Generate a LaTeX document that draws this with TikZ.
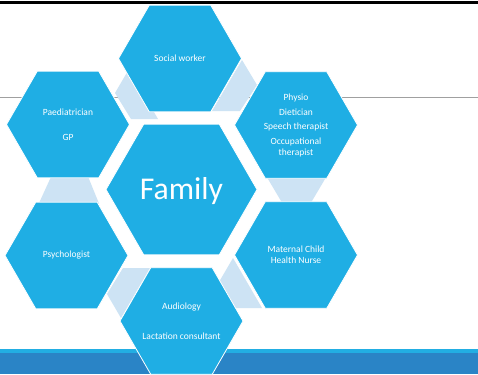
\documentclass[tikz,border=0pt]{standalone}
\usepackage{fontspec}
\setmainfont{Carlito}
\usetikzlibrary{shapes.geometric}
\definecolor{hexblue}{HTML}{1FAEE4}
\definecolor{lightc}{HTML}{CDE3F4}
\definecolor{bandlight}{HTML}{22AEE3}
\definecolor{banddark}{HTML}{2A84C6}
\definecolor{rulegray}{HTML}{A0A0A0}
\begin{document}
\begin{tikzpicture}[x=1bp,y=-1bp,
  hexa/.style={regular polygon, regular polygon sides=6, fill=hexblue, draw=white,
    line width=0.8bp, inner sep=0pt, outer sep=0pt, minimum size=123bp},
  txt/.style={text=white, align=center, inner sep=0pt,
    font=\fontsize{9.5bp}{11.5bp}\selectfont},
  conn/.style={fill=lightc}]
\useasboundingbox (0,0) rectangle (478,374);
\fill[white] (0,0) rectangle (478,374);
% top rule and grey line
\fill[black] (0,1) rectangle (478,4.3);
\draw[rulegray, line width=1bp] (0,97.5) -- (478,97.5);
% bottom band
\fill[bandlight] (0,348.5) rectangle (478,353);
\fill[banddark] (0,353) rectangle (478,374);
% light connectors
\fill[conn] (242,60) -- (257,85) -- (240,111) -- (212,111) -- cycle;
\fill[conn] (129,69) -- (115,93) -- (131,119) -- (158,119) -- cycle;
\fill[conn] (51.4,176) -- (87.8,176) -- (99.2,204) -- (38.6,204) -- cycle;
\fill[conn] (266.2,176) -- (326.8,176) -- (310.2,204) -- (282.8,204) -- cycle;
\fill[conn] (121,318) -- (107,294) -- (123,268) -- (150,268) -- cycle;
\fill[conn] (233,258) -- (219,282) -- (235,308) -- (262,308) -- cycle;
% hexagons
\node[hexa] (sw) at (180,58.5) {};
\node[hexa] (paed) at (68,124.5) {};
\node[hexa] (physio) at (296,125) {};
\node[hexa, minimum size=151bp] (family) at (181.5,189.5) {};
\node[hexa] (psych) at (66.5,255.5) {};
\node[hexa] (mch) at (296,255) {};
\node[hexa] (audio) at (181.5,321) {};
% texts
\node[txt] (tsw) at (sw) {Social worker};
\node[txt] (tpaed) at (paed.center) {Paediatrician\\[14bp]GP};
\node[txt] (tphysio) at ([yshift=-0.5bp]physio.center) {Physio\\[3bp]Dietician\\[2.6bp]Speech therapist\\[3.8bp]Occupational\\[-0.8bp]therapist};
\node[txt, font=\fontsize{31.7bp}{36bp}\selectfont] (tfam) at ([yshift=-1.5bp]family.center) {Family};
\node[txt] (tpsych) at (psych) {Psychologist};
\node[txt] (tmch) at (mch) {Maternal Child\\[-0.5bp]Health Nurse};
\node[txt] (taudio) at (audio.center) {Audiology\\[18.5bp]Lactation consultant};
\end{tikzpicture}
\end{document}
